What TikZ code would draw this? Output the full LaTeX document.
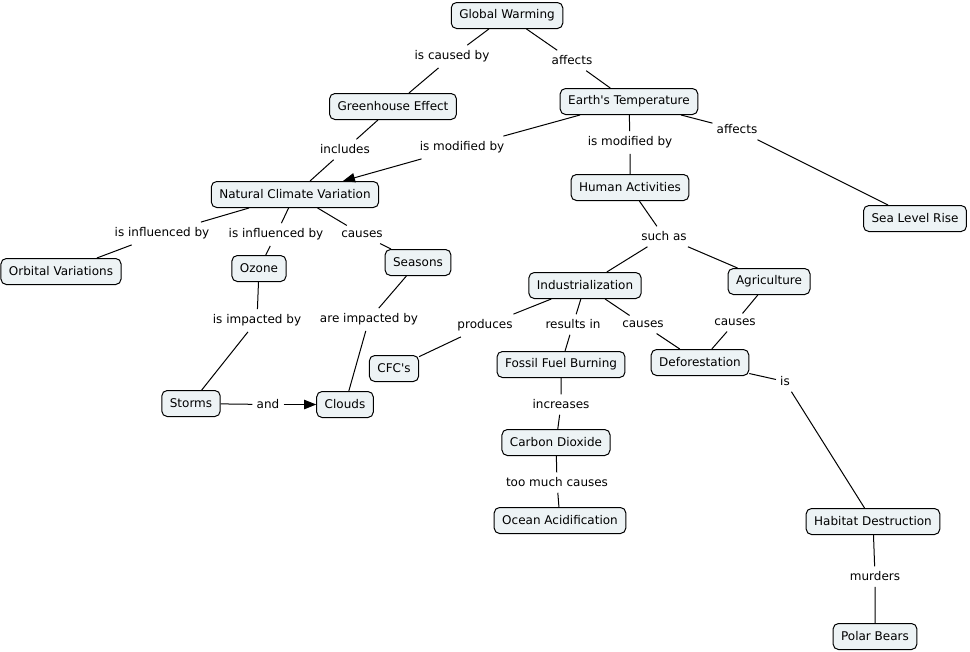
\documentclass[tikz,border=0pt]{standalone}
\usepackage{fontspec}
\setmainfont{DejaVu Sans}
\usetikzlibrary{arrows.meta}
\definecolor{boxfill}{HTML}{EDF3F5}
\tikzset{
  concept/.style={draw=black, fill=boxfill, rounded corners=4pt, line width=0.75pt,
    minimum height=19.5pt, inner xsep=6pt, inner ysep=2pt, font=\fontsize{9}{10}\selectfont},
  lbl/.style={fill=white, inner xsep=3pt, inner ysep=4pt, font=\fontsize{9}{10}\selectfont},
  link/.style={line width=0.75pt},
  arr/.style={line width=0.75pt, -{Triangle[length=9pt,width=7pt]}}
}
\begin{document}
\begin{tikzpicture}[x=0.75pt,y=-0.75pt]
\useasboundingbox (0,0) rectangle (970,651);
% concepts
\node[concept] (gw) at (507,15.5) {Global Warming};
\node[concept] (ge) at (393,106.5) {Greenhouse Effect};
\node[concept] (et) at (629,101.5) {Earth\textquotesingle s Temperature};
\node[concept] (ncv) at (295,194.5) {Natural Climate Variation};
\node[concept] (ha) at (630,187.5) {Human Activities};
\node[concept] (slr) at (915,218.5) {Sea Level Rise};
\node[concept] (ov) at (61,271.5) {Orbital Variations};
\node[concept] (oz) at (259,268.5) {Ozone};
\node[concept] (se) at (418,262.5) {Seasons};
\node[concept] (ind) at (585,285.5) {Industrialization};
\node[concept] (ag) at (769,281.5) {Agriculture};
\node[concept] (cfc) at (394,368.5) {CFC\textquotesingle s};
\node[concept] (ffb) at (561,364.5) {Fossil Fuel Burning};
\node[concept] (def) at (700,362.5) {Deforestation};
\node[concept] (st) at (191,403.5) {Storms};
\node[concept] (cl) at (345,404.5) {Clouds};
\node[concept] (cd) at (556,442.5) {Carbon Dioxide};
\node[concept] (oa) at (560,520.5) {Ocean Acidification};
\node[concept] (hd) at (873,521.5) {Habitat Destruction};
\node[concept] (pb) at (875,636.5) {Polar Bears};
% labels
\node[lbl] (l1) at (452,56.5) {is caused by};
\node[lbl] (l2) at (572,60.5) {affects};
\node[lbl] (l3) at (345,149.5) {includes};
\node[lbl] (l4) at (462,147.5) {is modified by};
\node[lbl] (l5) at (630,142.5) {is modified by};
\node[lbl] (l6) at (737,129.5) {affects};
\node[lbl] (l7) at (162,233.5) {is influenced by};
\node[lbl] (l8) at (276,234.5) {is influenced by};
\node[lbl] (l9) at (362,234.5) {causes};
\node[lbl] (l10) at (664,236.5) {such as};
\node[lbl] (l11) at (257,320.5) {is impacted by};
\node[lbl] (l12) at (369,319.5) {are impacted by};
\node[lbl] (l13) at (485,325.5) {produces};
\node[lbl] (l14) at (573,324.5) {results in};
\node[lbl] (l15) at (643,324.5) {causes};
\node[lbl] (l16) at (735,322.5) {causes};
\node[lbl] (l17) at (268,404.5) {and};
\node[lbl] (l18) at (561,404.5) {increases};
\node[lbl] (l19) at (785,381.5) {is};
\node[lbl] (l20) at (557,482.5) {too much causes};
\node[lbl] (l21) at (875,576.5) {murders};
% connectors
\draw[link] (gw) -- (l1) -- (ge);
\draw[link] (gw) -- (l2) -- (et);
\draw[link] (ge) -- (l3) -- (ncv);
\draw[link] (et) -- (l4);
\draw[arr] (l4) -- (ncv);
\draw[link] (et) -- (l5) -- (ha);
\draw[link] (et) -- (l6) -- (slr);
\draw[link] (ncv) -- (l7) -- (ov);
\draw[link] (ncv) -- (l8) -- (oz);
\draw[link] (ncv) -- (l9) -- (se);
\draw[link] (ha) -- (l10) -- (ind);
\draw[link] (l10) -- (ag);
\draw[link] (oz) -- (l11) -- (st);
\draw[link] (se) -- (l12) -- (cl);
\draw[link] (st) -- (l17);
\draw[arr] (l17) -- (cl);
\draw[link] (ind) -- (l13) -- (cfc);
\draw[link] (ind) -- (l14) -- (ffb);
\draw[link] (ind) -- (l15) -- (def);
\draw[link] (ag) -- (l16) -- (def);
\draw[link] (ffb) -- (l18) -- (cd);
\draw[link] (cd) -- (l20) -- (oa);
\draw[link] (def) -- (l19) -- (hd);
\draw[link] (hd) -- (l21) -- (pb);
\end{tikzpicture}
\end{document}
